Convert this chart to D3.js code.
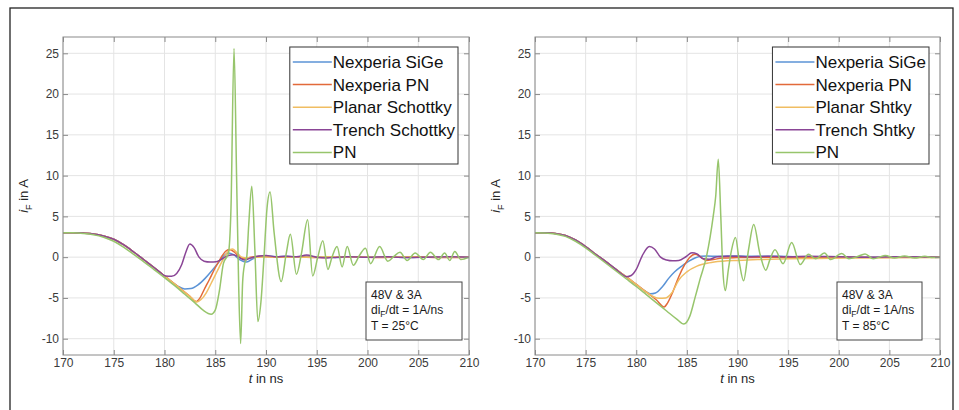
<!DOCTYPE html>
<html>
<head>
<meta charset="utf-8">
<script src="https://cdn.jsdelivr.net/npm/d3@7"></script>
<style>
  body { margin: 0; background: #fff; }
  svg { font-family: "Liberation Sans", Arial, Helvetica, sans-serif; }
</style>
</head>
<body>
<div id="chart"></div>
<script>
// ---- data: [t in ns, iF in A] ----
const sige25 = [[170,3],[171,3],[172,2.95],[173,2.85],[174,2.6],[175,2.2],[176,1.5],[177,0.6],[178,-0.35],[179,-1.3],[179.8,-2.1],
  [180.5,-2.8],[181.3,-3.55],[182,-3.9],[182.6,-3.85],[183.3,-3.4],[184,-2.6],[184.7,-1.6],[185.3,-0.7],[185.8,0.1],[186.3,0.5],
  [186.8,0.3],[187.4,-0.3],[188.1,-0.6],[188.7,-0.2],[189.3,0.1],[190,0.15],[191,0.05],[192,0.1],[193,0],[194,0.15],[195,0],
  [196,0.05],[197,-0.05],[198,0.05],[200,0],[202,0.05],[204,-0.05],[206,0.05],[208,0],[210,0]];
const nxpn25 = [[170,3],[171,3],[172,2.95],[173,2.85],[174,2.6],[175,2.2],[176,1.5],[177,0.6],[178,-0.35],[179,-1.3],[179.8,-2.1],
  [180.5,-2.8],[181.5,-3.8],[182.5,-4.8],[183.1,-5.45],[183.5,-5.0],[183.9,-4.0],[184.4,-2.8],[185,-1.3],[185.5,-0.2],[186,0.7],
  [186.4,0.95],[186.9,0.6],[187.4,0],[187.9,-0.2],[188.5,0],[189.5,0.1],[191,0],[193,0.05],[195,-0.05],[197,0],[199,0.05],
  [201,-0.05],[203,0],[205,0.05],[207,-0.05],[210,0]];
const planar25 = [[170,3],[171,3],[172,2.95],[173,2.85],[174,2.6],[175,2.2],[176,1.5],[177,0.6],[178,-0.35],[179,-1.3],[179.8,-2.1],
  [180.5,-2.8],[181.5,-3.8],[182.5,-4.8],[183.2,-5.5],[183.6,-5.2],[184.1,-4.4],[184.6,-3.2],[185.2,-1.7],[185.8,-0.2],[186.3,0.75],
  [186.7,1.0],[187.1,0.6],[187.6,0],[188.1,-0.1],[189,0],[191,0.05],[194,0],[197,0.05],[200,0],[203,0.05],[206,0],[210,0]];
const trench25 = [[170,3],[171,3],[172,2.95],[173,2.85],[174,2.6],[175,2.2],[176,1.5],[177,0.6],[178,-0.35],[179,-1.3],
  [179.6,-1.9],[180.1,-2.3],[180.7,-2.35],[181.2,-2.0],[181.7,-0.9],[182.1,0.6],[182.5,1.6],[182.9,1.2],[183.4,0],[183.9,-0.5],
  [184.5,-0.6],[185.1,-0.55],[185.7,-0.2],[186.3,0.2],[186.8,0.3],[187.3,0],[187.9,-0.35],[188.5,-0.1],[189.2,0.1],[190,0.2],
  [191,0.05],[192,0.1],[193,0.05],[194,0.25],[195,0],[196,-0.1],[197,0],[198,0.05],[200,0],[202,0.05],[204,-0.05],[206,0],
  [208,0.05],[210,0]];
const pn25 = [[170,3],[171,2.98],[172,2.9],[173,2.75],[174,2.45],[175,1.95],[176,1.2],[177,0.3],[178,-0.6],[179,-1.55],[180,-2.5],
  [181,-3.5],[182,-4.55],[183,-5.6],[183.8,-6.5],[184.6,-7.0],[185.0,-6.5],[185.4,-4.2],[185.8,-0.8],[186.3,0.5],[186.55,6],
  [186.85,25.6],[187.1,10],[187.3,-3],[187.5,-10.6],[187.7,-3],[187.9,-0.8],[188.1,0],[188.3,4],[188.6,8.7],[188.9,1],
  [189.2,-7.9],[189.5,-5.5],[189.8,0],[190.1,6],[190.4,8.0],[190.8,3],[191.5,-3.0],[192,0.5],[192.4,2.8],[193,-2.1],[193.5,0.5],
  [194.1,4.6],[194.6,-2.3],[195.1,0],[195.6,2.0],[196.1,-1.5],[196.5,0],[197,1.3],[197.5,-1.2],[198,1.3],[198.6,-1.0],
  [199.2,0.2],[199.8,1.1],[200.3,-0.8],[201.2,1.3],[202,-0.5],[202.6,0.1],[203.2,0.6],[203.9,-0.4],[204.7,0.5],[205.5,-0.3],
  [206.2,0.6],[207,-0.3],[207.6,0.5],[208.1,-0.4],[208.6,0.7],[209.2,-0.3],[210,0]];

const sige85 = [[170,3],[171,2.98],[172,2.9],[173,2.65],[174,2.1],[175,1.3],[176,0.35],[177,-0.55],[178,-1.5],[179,-2.4],
  [180,-3.35],[180.8,-4.1],[181.4,-4.5],[181.9,-4.4],[182.6,-3.6],[183.2,-2.6],[183.8,-1.8],[184.5,-1.1],[185.2,-0.5],[185.8,-0.1],
  [186.4,0.1],[187,0.15],[188,0.1],[189,0.15],[190,0.15],[192,0.1],[194,0.1],[196,0.05],[198,0.05],[200,0.05],[203,0],
  [206,0.05],[210,0]];
const nxpn85 = [[170,3],[171,2.98],[172,2.9],[173,2.65],[174,2.1],[175,1.3],[176,0.35],[177,-0.55],[178,-1.5],[179,-2.4],
  [180,-3.35],[181,-4.3],[182,-5.25],[182.75,-6.1],[183.1,-5.6],[183.6,-4.3],[184.2,-2.4],[184.8,-0.9],[185.3,0],[185.8,0.35],
  [186.3,0.1],[186.9,-0.4],[187.6,-0.3],[188.5,-0.1],[190,-0.05],[193,0],[196,-0.05],[200,0],[204,-0.05],[210,0]];
const planar85 = [[170,3],[171,2.98],[172,2.9],[173,2.65],[174,2.1],[175,1.3],[176,0.35],[177,-0.55],[178,-1.5],[179,-2.4],
  [180,-3.35],[181,-4.3],[181.7,-4.85],[182.3,-5.05],[182.9,-5.0],[183.5,-4.4],[184.2,-2.8],[185,-1.8],[186,-1.1],[187.2,-0.7],
  [188.5,-0.5],[190,-0.4],[192,-0.3],[195,-0.2],[198,-0.15],[202,-0.1],[206,-0.05],[210,-0.05]];
const trench85 = [[170,3],[171,2.98],[172,2.9],[173,2.65],[174,2.1],[175,1.3],[176,0.35],[177,-0.55],[178,-1.5],[178.6,-2.1],
  [179.05,-2.4],[179.5,-2.25],[180,-1.5],[180.6,0.2],[181.3,1.3],[181.8,1.0],[182.4,0],[183,-0.35],[183.6,-0.45],[184.2,-0.4],
  [184.9,0.05],[185.5,0.55],[186,0.4],[186.6,-0.2],[187.2,-0.25],[188,0.05],[189,0.1],[190,0.1],[191,0.05],[193,0.1],[195,0.05],
  [197,0.1],[200,0.05],[203,0],[206,0.05],[210,0]];
const pn85 = [[170,3],[171,2.97],[172,2.85],[173,2.55],[174,1.95],[175,1.15],[176,0.2],[177,-0.75],[178,-1.7],[179,-2.65],
  [180,-3.6],[181,-4.6],[182,-5.6],[183,-6.6],[184,-7.6],[184.7,-8.2],[185.3,-7.2],[185.8,-5.0],[186.3,-2.7],[186.95,0.15],
  [187.6,5.0],[187.85,7.5],[188.1,12.0],[188.35,5],[188.55,-1.5],[188.8,-4.1],[189.1,-1.5],[189.4,0.8],[189.8,2.4],[190.2,-0.8],
  [190.6,-2.9],[191.1,1.0],[191.6,4.0],[192.2,0.5],[192.8,-1.6],[193.2,-0.3],[193.7,0.9],[194.5,-0.8],[195.35,1.8],[196.2,-0.9],
  [197,0.35],[197.7,-0.2],[198.6,0.5],[199.2,-0.3],[200.3,0.45],[201,-0.2],[201.8,0.05],[202.6,0.4],[203.4,-0.2],[204.6,0.2],
  [205.5,-0.1],[206.5,0.15],[207.5,-0.1],[208.5,0.1],[209.3,-0.05],[210,0]];

const names25 = ["Nexperia SiGe", "Nexperia PN", "Planar Schottky", "Trench Schottky", "PN"];
const names85 = ["Nexperia SiGe", "Nexperia PN", "Planar Shtky", "Trench Shtky", "PN"];
const xTicks = [170, 175, 180, 185, 190, 195, 200, 205, 210];
const yTicks = [-10, -5, 0, 5, 10, 15, 20, 25];
const colors = ["#5b93d6", "#e26a3a", "#f0bd62", "#8a4596", "#97c56c"];

const W = 959, H = 410;
const svg = d3.select("#chart").append("svg")
    .attr("width", W)
    .attr("height", H);

// figure frame (bottom edge runs off the picture)
svg.append("rect")
    .attr("x", 10).attr("y", 8)
    .attr("width", 943).attr("height", 420)
    .attr("fill", "none")
    .attr("stroke", "#222")
    .attr("stroke-width", 1.3);

function panel(cfg) {
    const x = d3.scaleLinear().domain([170, 210]).range([cfg.left, cfg.right]);
    const y = d3.scaleLinear().domain([-12, 27]).range([355, 37]);
    const g = svg.append("g");

    // grid
    g.selectAll(".gx").data(xTicks).join("line")
        .attr("x1", d => x(d)).attr("x2", d => x(d))
        .attr("y1", y.range()[0]).attr("y2", y.range()[1])
        .attr("stroke", "#e4e4e4");
    g.selectAll(".gy").data(yTicks).join("line")
        .attr("x1", cfg.left).attr("x2", cfg.right)
        .attr("y1", d => y(d)).attr("y2", d => y(d))
        .attr("stroke", "#e4e4e4");

    // lines
    const clipId = "clip" + cfg.id;
    svg.append("clipPath").attr("id", clipId)
        .append("rect")
        .attr("x", cfg.left).attr("y", 37)
        .attr("width", cfg.right - cfg.left).attr("height", 318);

    const line = d3.line()
        .x(d => x(d[0]))
        .y(d => y(d[1]))
        .curve(d3.curveMonotoneX);

    g.append("g").attr("clip-path", `url(#${clipId})`)
        .selectAll("path").data(cfg.series).join("path")
        .attr("d", line)
        .attr("fill", "none")
        .attr("stroke", (d, i) => colors[i])
        .attr("stroke-width", 1.5)
        .attr("stroke-linejoin", "round");

    // axes: labels plus inward ticks on all four sides
    const tickCol = "#8a8a8a";
    const fmt = d => String(d);   // plain hyphen minus like the original
    const xAxis = g.append("g")
        .attr("transform", `translate(0,355)`)
        .call(d3.axisBottom(x).tickValues(xTicks).tickFormat(fmt).tickSizeInner(-5).tickSizeOuter(0).tickPadding(3));
    const yAxis = g.append("g")
        .attr("transform", `translate(${cfg.left},0)`)
        .call(d3.axisLeft(y).tickValues(yTicks).tickFormat(fmt).tickSizeInner(-5).tickSizeOuter(0).tickPadding(4));
    const xTop = g.append("g")
        .attr("transform", `translate(0,37)`)
        .call(d3.axisTop(x).tickValues(xTicks).tickSizeInner(-5).tickSizeOuter(0).tickFormat(""));
    const yRight = g.append("g")
        .attr("transform", `translate(${cfg.right},0)`)
        .call(d3.axisRight(y).tickValues(yTicks).tickSizeInner(-5).tickSizeOuter(0).tickFormat(""));

    [xAxis, yAxis, xTop, yRight].forEach(a => {
        a.select(".domain").remove();
        a.selectAll("line").attr("stroke", tickCol);
        a.selectAll("text")
            .attr("fill", "#3a3a3a")
            .attr("font-size", 12)
            .attr("font-family", "'Liberation Sans', Arial, sans-serif");
    });

    g.append("rect")
        .attr("x", cfg.left).attr("y", 37)
        .attr("width", cfg.right - cfg.left).attr("height", 318)
        .attr("fill", "none")
        .attr("stroke", tickCol);

    // axis labels
    const xl = g.append("text")
        .attr("x", (cfg.left + cfg.right) / 2).attr("y", 383)
        .attr("text-anchor", "middle")
        .attr("font-size", 13)
        .attr("fill", "#262626");
    xl.append("tspan").attr("font-style", "italic").text("t");
    xl.append("tspan").text(" in ns");

    const yl = g.append("text")
        .attr("transform", `translate(${cfg.left - 35},196) rotate(-90)`)
        .attr("text-anchor", "middle")
        .attr("font-size", 13)
        .attr("fill", "#262626");
    yl.append("tspan").attr("font-style", "italic").text("i");
    yl.append("tspan").attr("font-size", 9).attr("dy", 4).text("F");
    yl.append("tspan").attr("dy", -4).text(" in A");

    // legend
    const lg = g.append("g");
    const box = lg.append("rect")
        .attr("fill", "#fff")
        .attr("stroke", "#333")
        .attr("stroke-width", 1);
    const rowY = i => 62 + i * 22.6;
    const texts = lg.selectAll("text").data(cfg.names).join("text")
        .attr("y", (d, i) => rowY(i))
        .attr("dy", "0.35em")
        .attr("font-size", 17)
        .attr("fill", "#111")
        .text(d => d);
    const maxW = d3.max(texts.nodes(), n => n.getComputedTextLength());
    const boxRight = cfg.right - 11;
    const textX = boxRight - 3 - maxW;
    const boxLeft = textX - 43;
    texts.attr("x", textX);
    lg.selectAll("line").data(cfg.names).join("line")
        .attr("x1", boxLeft + 3).attr("x2", textX - 1)
        .attr("y1", (d, i) => rowY(i)).attr("y2", (d, i) => rowY(i))
        .attr("stroke", (d, i) => colors[i])
        .attr("stroke-width", 1.5);
    box.attr("x", boxLeft).attr("y", 47)
        .attr("width", boxRight - boxLeft).attr("height", 117);

    // operating point note
    const nb = g.append("g");
    nb.append("rect")
        .attr("x", cfg.noteX).attr("y", 282)
        .attr("width", cfg.noteW).attr("height", 58)
        .attr("fill", "#fff")
        .attr("stroke", "#444");
    const nt = nb.append("g")
        .attr("font-size", 12)
        .attr("fill", "#1a1a1a");
    nt.append("text").attr("x", cfg.noteX + 5).attr("y", 299).text("48V & 3A");
    const di = nt.append("text").attr("x", cfg.noteX + 5).attr("y", 314);
    di.append("tspan").text("di");
    di.append("tspan").attr("font-size", 8.5).attr("dy", 3).text("F");
    di.append("tspan").attr("dy", -3).text("/dt = 1A/ns");
    nt.append("text").attr("x", cfg.noteX + 5).attr("y", 330).text(cfg.temp);
}

panel({
    id: 25, left: 63, right: 469,
    series: [sige25, nxpn25, planar25, trench25, pn25],
    names: names25,
    noteX: 366, noteW: 96, temp: "T = 25°C"
});
panel({
    id: 85, left: 535, right: 940,
    series: [sige85, nxpn85, planar85, trench85, pn85],
    names: names85,
    noteX: 837, noteW: 85, temp: "T = 85°C"
});
</script>
</body>
</html>
